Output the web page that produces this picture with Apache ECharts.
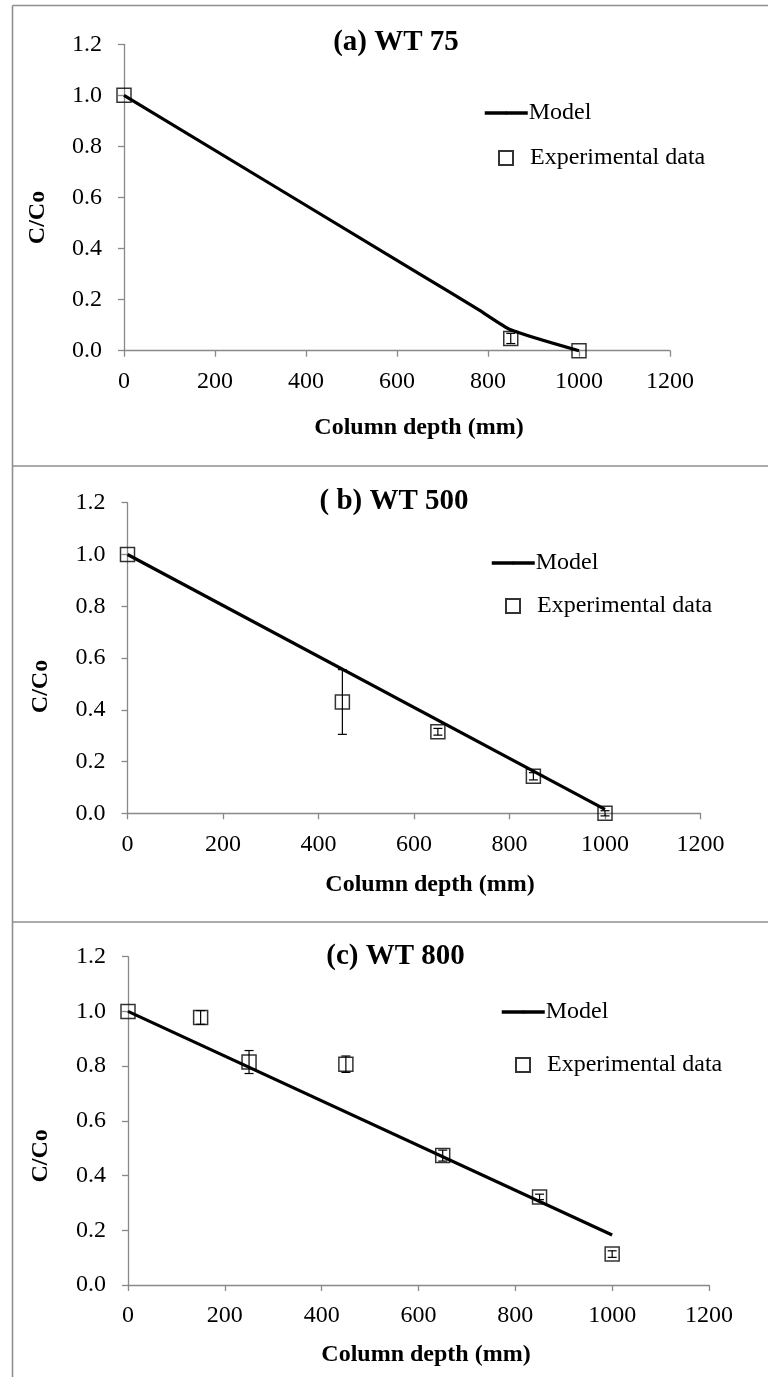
<!DOCTYPE html>
<html>
<head>
<meta charset="utf-8">
<title>C/Co versus column depth</title>
<script src="https://cdn.jsdelivr.net/npm/echarts@6/dist/echarts.min.js"></script>
<style>
  html, body { margin: 0; padding: 0; background: #fff; }
  #chart { width: 768px; height: 1377px; }
</style>
</head>
<body>
<div id="chart"></div>
<script>
// ---- data -------------------------------------------------------------
const panelTitles = ['(a) WT 75', '( b) WT 500', '(c) WT 800'];
const seriesNames = ['Model', 'Experimental data'];
const xAxisName = 'Column depth (mm)';
const yAxisName = 'C/Co';

// (a) WT 75
const modelDepthA = [0, 650, 780, 850, 1000];
const modelA      = [1.0, 0.30, 0.16, 0.082, 0.0];
const expDepthA   = [0, 850, 1000];
const expA        = [1.0, 0.048, 0.0];
const errA        = [0, 0.02, 0];

// (b) WT 500
const modelDepthB = [0, 1000];
const modelB      = [1.0, 0.015];
const expDepthB   = [0, 450, 650, 850, 1000];
const expB        = [1.0, 0.43, 0.315, 0.143, 0.0];
const errB        = [0, 0.125, 0.013, 0.014, 0.01];

// (c) WT 800
const modelDepthC = [0, 1000];
const modelC      = [1.0, 0.183];
const expDepthC   = [0, 150, 250, 450, 650, 850, 1000];
const expC        = [1.0, 0.978, 0.815, 0.807, 0.473, 0.322, 0.113];
const errC        = [0, 0.025, 0.042, 0.03, 0.02, 0.01, 0.012];

// ---- layout / styling -------------------------------------------------
const FONT = '"Liberation Serif", "Times New Roman", serif';
const AXIS_GREY = '#898989';

const panels = [
  { model: [modelDepthA, modelA], exp: [expDepthA, expA, errA], smooth: 0.2,
    grid: { left: 124, top: 44.3, width: 546, height: 306.4 },
    title: { x: 396, y: 28 },
    xName: { gap: 65, pad: 44 }, yName: { gap: 74, pad: 40 },
    legModel: { left: 483, top: 101 }, legExp: { left: 498, top: 146 } },
  { model: [modelDepthB, modelB], exp: [expDepthB, expB, errB], smooth: false,
    grid: { left: 127.5, top: 502.7, width: 573, height: 310.6 },
    title: { x: 394, y: 487 },
    xName: { gap: 59, pad: 32 }, yName: { gap: 75, pad: 57 },
    legModel: { left: 490, top: 551 }, legExp: { left: 505, top: 594 } },
  { model: [modelDepthC, modelC], exp: [expDepthC, expC, errC], smooth: false,
    grid: { left: 128, top: 956.7, width: 581, height: 328.3 },
    title: { x: 395.5, y: 942 },
    xName: { gap: 58, pad: 15 }, yName: { gap: 75.5, pad: 70 },
    legModel: { left: 500, top: 1000 }, legExp: { left: 515, top: 1053 } }
];

const zip = (xs, ys) => xs.map((x, i) => [x, ys[i]]);

const grid = [], xAxis = [], yAxis = [], series = [], legend = [], title = [];

panels.forEach((p, i) => {
  grid.push(Object.assign({ containLabel: false, outerBoundsMode: 'none' }, p.grid));

  title.push({
    text: panelTitles[i], left: p.title.x, top: p.title.y, textAlign: 'center',
    padding: 0,
    textStyle: { fontFamily: FONT, fontSize: 29, fontWeight: 'bold', color: '#000', lineHeight: 29 }
  });

  xAxis.push({
    type: 'value', gridIndex: i, min: 0, max: 1200, interval: 200,
    name: xAxisName, nameLocation: 'middle', nameGap: p.xName.gap,
    nameTextStyle: { fontFamily: FONT, fontSize: 24, fontWeight: 'bold', color: '#000',
                     padding: [0, 0, 0, p.xName.pad] },
    axisLine: { show: true, onZero: false, lineStyle: { color: AXIS_GREY, width: 1.3 } },
    axisTick: { show: true, inside: false, length: 6, lineStyle: { color: AXIS_GREY, width: 1.3 } },
    axisLabel: { fontFamily: FONT, fontSize: 24, color: '#000', margin: 19,
                 formatter: v => String(v) },
    splitLine: { show: false }
  });

  yAxis.push({
    type: 'value', gridIndex: i, min: 0, max: 1.2, interval: 0.2,
    name: yAxisName, nameLocation: 'middle', nameGap: p.yName.gap, nameRotate: 90,
    nameTextStyle: { fontFamily: FONT, fontSize: 24, fontWeight: 'bold', color: '#000',
                     padding: [0, p.yName.pad, 0, 0] },
    axisLine: { show: true, onZero: false, lineStyle: { color: AXIS_GREY, width: 1.3 } },
    axisTick: { show: true, inside: false, length: 6, lineStyle: { color: AXIS_GREY, width: 1.3 } },
    axisLabel: { fontFamily: FONT, fontSize: 24, color: '#000', margin: 22,
                 formatter: v => v.toFixed(1) },
    splitLine: { show: false }
  });

  const [ed, ev, ee] = p.exp;

  // error bars with short caps
  series.push({
    type: 'custom', name: 'err' + i, xAxisIndex: i, yAxisIndex: i, z: 3,
    silent: true,
    data: ed.map((d, k) => [d, ev[k], ee[k]]),
    renderItem: (params, api) => {
      const x = api.value(0), y = api.value(1), e = api.value(2);
      if (!e) return null;
      const top = api.coord([x, y + e]);
      const bot = api.coord([x, y - e]);
      const cap = 4.5;
      const st = { stroke: '#000', lineWidth: 1.2 };
      return {
        type: 'group',
        children: [
          { type: 'line', shape: { x1: top[0], y1: top[1], x2: bot[0], y2: bot[1] }, style: st },
          { type: 'line', shape: { x1: top[0] - cap, y1: top[1], x2: top[0] + cap, y2: top[1] }, style: st },
          { type: 'line', shape: { x1: bot[0] - cap, y1: bot[1], x2: bot[0] + cap, y2: bot[1] }, style: st }
        ]
      };
    }
  });

  series.push({
    type: 'scatter', name: seriesNames[1], xAxisIndex: i, yAxisIndex: i, z: 4,
    symbol: 'rect', symbolSize: 14,
    itemStyle: { color: 'rgba(0,0,0,0)', borderColor: '#000', borderWidth: 1.5 },
    data: zip(ed, ev)
  });

  series.push({
    type: 'line', name: seriesNames[0], xAxisIndex: i, yAxisIndex: i, z: 5,
    symbol: 'none', smooth: p.smooth,
    lineStyle: { color: '#000', width: 3.2 },
    itemStyle: { color: '#000' },
    data: zip(p.model[0], p.model[1])
  });

  legend.push({
    data: [seriesNames[0]], left: p.legModel.left, top: p.legModel.top,
    padding: 0, itemWidth: 43, itemHeight: 4, selectedMode: false,
    lineStyle: { color: '#000', width: 3.5 },
    textStyle: { fontFamily: FONT, fontSize: 24, color: '#000', lineHeight: 24, padding: [0, 0, 0, -4] }
  });
  legend.push({
    data: [seriesNames[1]], left: p.legExp.left, top: p.legExp.top,
    padding: 0, itemWidth: 14, itemHeight: 14, selectedMode: false,
    textStyle: { fontFamily: FONT, fontSize: 24, color: '#000', lineHeight: 24, padding: [0, 0, 0, 12] }
  });
});

// panel frames
const FRAME = { stroke: '#8f8f8f', lineWidth: 1.6 };
const graphic = [
  { type: 'line', shape: { x1: 12.5, y1: 5.5, x2: 12.5, y2: 1377 }, style: FRAME, silent: true },
  { type: 'line', shape: { x1: 12.5, y1: 5.5, x2: 768, y2: 5.5 }, style: FRAME, silent: true },
  { type: 'line', shape: { x1: 12.5, y1: 466, x2: 768, y2: 466 }, style: FRAME, silent: true },
  { type: 'line', shape: { x1: 12.5, y1: 922, x2: 768, y2: 922 }, style: FRAME, silent: true }
];

const chart = echarts.init(document.getElementById('chart'), null, { renderer: 'canvas' });
chart.setOption({
  animation: false,
  backgroundColor: '#fff',
  title, grid, xAxis, yAxis, series, legend, graphic
});
</script>
</body>
</html>
